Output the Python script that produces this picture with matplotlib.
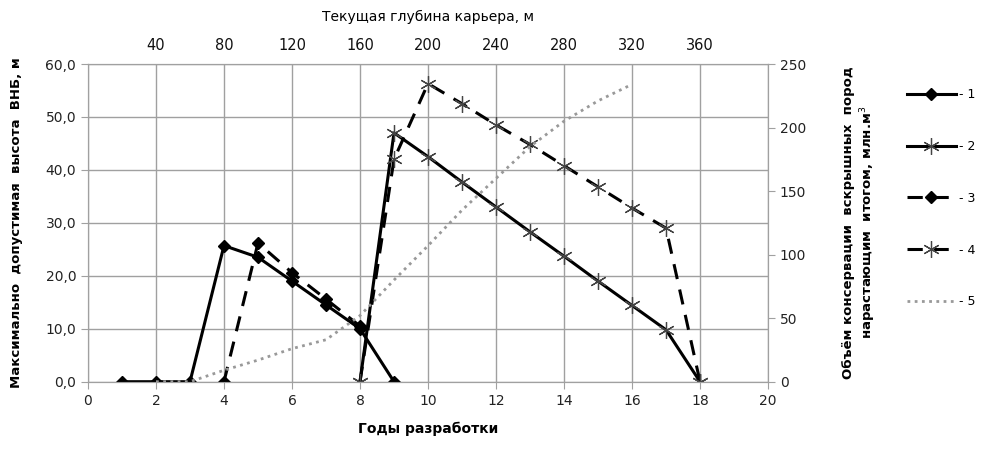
import matplotlib
matplotlib.use("Agg")
import matplotlib.pyplot as plt
import numpy as np

# данные
years1 = [1, 2, 3, 4, 5, 6, 7, 8, 9]
h1 = [0, 0, 0, 25.7, 23.5, 19.0, 14.5, 10.0, 0]

years2 = [8, 9, 10, 11, 12, 13, 14, 15, 16, 17, 18]
h2 = [0, 47.0, 42.5, 37.7, 33.0, 28.3, 23.7, 19.0, 14.4, 9.8, 0]

years3 = [4, 5, 6, 7, 8]
h3 = [0, 26.2, 20.6, 15.6, 10.5]

years4 = [8, 9, 10, 11, 12, 13, 14, 15, 16, 17, 18]
h4 = [0, 42.0, 56.3, 52.5, 48.5, 44.8, 40.8, 36.8, 32.8, 29.0, 0]

years5 = [2, 3, 4, 5, 6, 7, 8, 9, 10, 11, 12, 13, 14, 15, 16]
v5 = [0, 0, 9, 17, 26, 33, 52, 80, 107, 135, 160, 185, 205, 221, 234]

top_years = [2, 4, 6, 8, 10, 12, 14, 16, 18]
top_depth = ['40', '80', '120', '160', '200', '240', '280', '320', '360']

plt.rcParams['font.family'] = ['DejaVu Sans']
grid_c = '#a0a0a0'

fig = plt.figure(figsize=(9.82, 4.53), dpi=100)
ax = fig.add_axes([0.0896, 0.1574, 0.6925, 0.7013])
ax2 = ax.twinx()

asterisk = (6, 2, 0)
dash = (0, (5, 3.5))

ax.plot(years1, h1, color='black', lw=2.2, marker='D', ms=6, label='- 1', zorder=4)
ax.plot(years2, h2, color='black', lw=2.2, marker=asterisk, ms=12,
        mec='#444444', mew=0.9, label='- 2', zorder=4)
ax.plot(years3, h3, color='black', lw=2.2, ls=dash, marker='D', ms=6,
        label='- 3', zorder=4)
ax.plot(years4, h4, color='black', lw=2.2, ls=dash, marker=asterisk, ms=12,
        mec='#444444', mew=0.9, label='- 4', zorder=4)
ax2.plot(years5, v5, color='#999999', lw=2, ls=(0, (1, 1.6)), label='- 5')

ax.set_xlim(0, 20)
ax.set_ylim(0, 60)
ax2.set_ylim(0, 250)
ax.set_xticks(range(0, 21, 2))
ax.set_yticks(range(0, 61, 10))
ax.set_yticklabels([f'{v},0' for v in range(0, 61, 10)])
ax2.set_yticks(range(0, 251, 50))

ax.grid(True, color=grid_c, lw=1)
ax.set_axisbelow(True)
for a in (ax, ax2):
    for s in a.spines.values():
        s.set_color(grid_c)
    a.tick_params(colors=grid_c, labelcolor='#222222', labelsize=10, length=5)

ax.set_xlabel('Годы разработки', fontsize=10, fontweight='bold', labelpad=10)
ax.set_ylabel('Максимально  допустимая  высота  ВНБ, м', fontsize=9.5,
              fontweight='bold', labelpad=16)
ax2.set_ylabel('Объём консервации  вскрышных  пород\nнарастающим  итогом, млн.м$^3$',
               fontsize=9.5, fontweight='bold', labelpad=26)

top = ax.secondary_xaxis('top')
top.set_xticks(top_years, top_depth)
top.tick_params(length=0, labelsize=10.5, labelcolor='#111111', pad=8)
top.spines['top'].set_visible(False)
top.set_xlabel('Текущая глубина карьера, м', fontsize=10, labelpad=12)

handles = ax.get_legend_handles_labels()[0] + ax2.get_legend_handles_labels()[0]
labels = [h.get_label() for h in handles]
fig.legend(handles, labels, loc='upper left', bbox_to_anchor=(0.912, 0.83),
           frameon=False, fontsize=9, handlelength=3.9, labelspacing=3.1,
           handletextpad=0.3)

fig.savefig('out.png', dpi=100)
